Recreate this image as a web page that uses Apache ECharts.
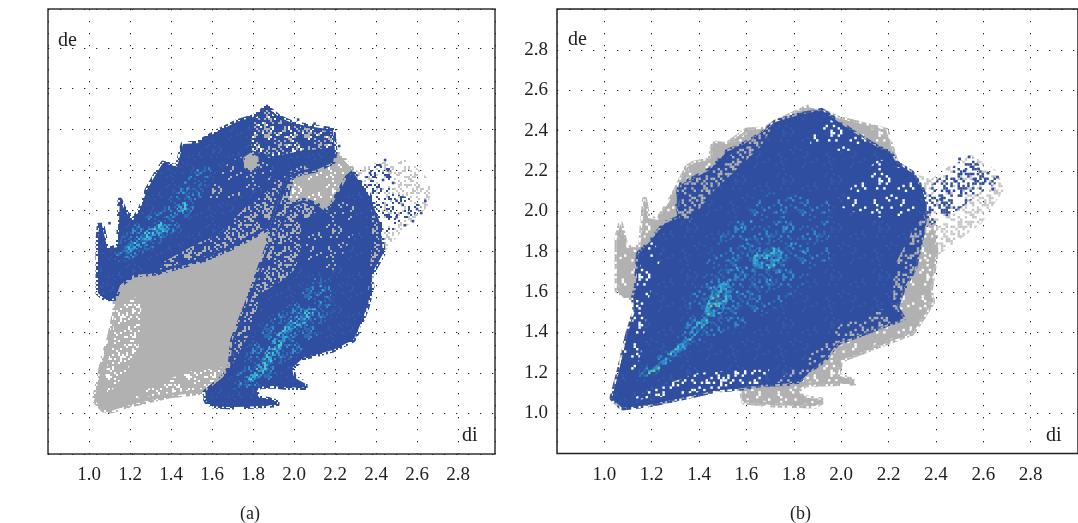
<!DOCTYPE html>
<html><head><meta charset="utf-8"><style>html,body{margin:0;padding:0;background:#fff}#c{width:1078px;height:523px}</style>
<script src="https://cdn.jsdelivr.net/npm/echarts@6/dist/echarts.min.js"></script></head><body><div id="c"></div>
<script>
const diTicks=['1.0','1.2','1.4','1.6','1.8','2.0','2.2','2.4','2.6','2.8'];
const deTicks=['1.0','1.2','1.4','1.6','1.8','2.0','2.2','2.4','2.6','2.8'];
// ---- panel (a) outlines, [di,de]
const aGray=[[1.026,1.079],[1.07,1.03],[1.11,1.026],[1.2,1.054],[1.395,1.10],[1.566,1.118],[1.7,1.2],[2.0,1.3],[2.3,1.4],[2.38,1.635],[2.37,1.8],[2.3,2.2],[2.288,2.21],[2.215,2.295],[2.19,2.31],[1.9,2.3],[1.5,2.25],[1.2,1.9],[1.1,1.7],[1.127,1.58],[1.127,1.52],[1.10,1.39],[1.07,1.29]];
const aTail=[[2.3,1.75],[2.434,1.80],[2.53,1.916],[2.65,2.03],[2.673,2.123],[2.65,2.172],[2.55,2.27],[2.48,2.236],[2.434,2.26],[2.288,2.21],[2.2,2.0]];
const aTailBlue=[[2.37,1.82],[2.5,1.92],[2.62,2.02],[2.6,2.06],[2.48,2.1],[2.47,2.22],[2.4,2.26],[2.35,2.19],[2.33,2.1]];
const aGrayLeft=[[1.08,1.2],[1.11,1.36],[1.13,1.54],[1.26,1.6],[1.24,1.32],[1.17,1.2],[1.09,1.1]];
const aGrayBottom=[[1.2,1.08],[1.4,1.115],[1.57,1.135],[1.68,1.2],[1.66,1.24],[1.5,1.22],[1.38,1.18],[1.28,1.13]];
const aBlob=[[1.98,2.06],[2.05,2.07],[2.11,2.04],[2.16,2.0],[2.2,2.06],[2.27,2.19],[2.21,2.27],[2.1,2.2],[2.0,2.17],[1.97,2.12]];
const aBridge=[[1.86,1.87],[1.883,1.93],[1.92,2.05],[1.966,2.17],[2.0,2.17],[1.98,2.1],[1.98,2.04],[1.93,1.94],[1.883,1.84]];
const aLowerMix=[[1.566,1.118],[1.654,1.192],[1.688,1.24],[1.70,1.374],[1.776,1.57],[1.834,1.734],[1.883,1.867],[1.93,1.94],[1.98,2.04],[2.044,2.064],[2.112,2.04],[2.16,2.0],[2.19,2.05],[2.225,2.113],[2.26,2.177],[2.288,2.2],[2.37,2.08],[2.42,1.95],[2.434,1.80],[2.37,1.685],[2.38,1.635],[2.356,1.537],[2.307,1.41],[2.288,1.374],[2.19,1.325],[2.044,1.286],[1.99,1.236],[2.0,1.19],[2.054,1.16],[2.054,1.14],[1.966,1.14],[1.90,1.148],[1.83,1.145],[1.815,1.115],[1.83,1.09],[1.88,1.08],[1.917,1.07],[1.917,1.055],[1.82,1.05],[1.70,1.044],[1.605,1.05],[1.574,1.07]];
const aLowerSolid=[[1.60,1.12],[1.68,1.2],[1.72,1.27],[1.79,1.40],[1.85,1.6],[1.95,1.66],[2.015,1.72],[2.044,1.82],[2.044,1.95],[2.12,2.0],[2.16,1.98],[2.19,2.05],[2.26,2.17],[2.288,2.19],[2.33,2.12],[2.37,2.0],[2.37,1.85],[2.36,1.72],[2.35,1.6],[2.33,1.5],[2.29,1.40],[2.2,1.345],[2.05,1.30],[1.99,1.25],[1.99,1.20],[2.05,1.15],[1.97,1.145],[1.9,1.148],[1.83,1.145],[1.815,1.115],[1.83,1.09],[1.88,1.08],[1.917,1.07],[1.917,1.055],[1.82,1.05],[1.70,1.044],[1.605,1.05],[1.566,1.08]];
const aLowerSparse=[[2.05,1.72],[2.2,1.72],[2.3,1.92],[2.3,2.05],[2.24,2.08],[2.16,1.97],[2.06,1.96]];
const aUpperMix=[[1.044,1.606],[1.044,1.72],[1.044,1.867],[1.05,1.94],[1.063,1.94],[1.088,1.825],[1.14,1.83],[1.146,1.90],[1.151,2.064],[1.166,2.03],[1.21,1.956],[1.249,2.015],[1.283,2.113],[1.33,2.197],[1.361,2.246],[1.43,2.227],[1.459,2.34],[1.527,2.344],[1.624,2.40],[1.722,2.45],[1.8,2.473],[1.868,2.522],[1.93,2.47],[2.0,2.44],[2.12,2.42],[2.19,2.41],[2.2,2.30],[2.19,2.25],[2.1,2.21],[2.044,2.2],[1.966,2.17],[1.92,2.05],[1.883,1.93],[1.7,1.83],[1.556,1.768],[1.33,1.704],[1.215,1.695],[1.151,1.645],[1.127,1.58],[1.078,1.576]];
const aUpperSolid=[[1.044,1.606],[1.044,1.72],[1.044,1.867],[1.05,1.94],[1.063,1.94],[1.088,1.825],[1.14,1.83],[1.146,1.90],[1.151,2.064],[1.166,2.03],[1.21,1.956],[1.249,2.015],[1.283,2.113],[1.33,2.197],[1.361,2.246],[1.43,2.227],[1.459,2.34],[1.527,2.34],[1.624,2.39],[1.722,2.44],[1.8,2.46],[1.82,2.33],[1.9,2.27],[2.05,2.3],[2.19,2.31],[2.19,2.25],[2.1,2.21],[2.044,2.25],[1.966,2.21],[1.883,2.16],[1.883,2.128],[1.77,2.05],[1.624,1.90],[1.54,1.867],[1.361,1.77],[1.33,1.72],[1.215,1.695],[1.151,1.645],[1.127,1.58],[1.078,1.576]];
const aUpperSparse=[[1.55,2.05],[1.72,2.08],[1.88,2.15],[1.9,2.27],[1.8,2.3],[1.68,2.25]];
const aTopMix=[[1.79,2.31],[1.8,2.46],[1.868,2.51],[1.93,2.46],[2.0,2.43],[2.12,2.41],[2.19,2.4],[2.19,2.32],[2.05,2.31],[1.9,2.28]];
const aGrayOval=[[1.76,2.23],[1.79,2.21],[1.82,2.23],[1.82,2.27],[1.79,2.29],[1.76,2.27]];
const aHalo1=[[1.13,1.75],[1.2,1.77],[1.35,1.85],[1.47,1.96],[1.56,2.1],[1.6,2.22],[1.53,2.24],[1.45,2.13],[1.36,2.04],[1.26,1.97],[1.17,1.9],[1.12,1.8]];
const aHalo2=[[1.7,1.13],[1.86,1.15],[1.96,1.26],[2.1,1.38],[2.18,1.5],[2.18,1.68],[2.1,1.68],[2.0,1.56],[1.88,1.47],[1.78,1.34],[1.72,1.2]];
const aCore1=[[1.18,1.79],[1.3,1.87],[1.4,1.92],[1.35,1.96],[1.26,1.9],[1.18,1.84]];
const aCore2=[[1.43,1.99],[1.48,2.02],[1.47,2.06],[1.43,2.03]];
const aCore3=[[1.76,1.16],[1.84,1.19],[1.93,1.32],[1.98,1.42],[2.06,1.46],[2.11,1.53],[2.06,1.53],[1.98,1.47],[1.9,1.38],[1.83,1.26]];
const aCyan=[[1.22,1.83],[1.28,1.87],[1.36,1.92],[1.38,1.91],[1.47,2.15],[1.53,2.21],[1.48,2.12],[1.46,2.1],[2.13,1.56],[2.14,1.62],[2.13,1.64],[1.8,1.2],[1.74,1.16],[1.9,1.37],[2.03,1.45]];
const aBlueSpecks=[[2.444,2.261],[2.42,2.236],[2.459,2.21],[2.37,2.197],[2.434,2.163],[2.483,2.148],[2.5,2.06],[2.53,2.04],[2.56,2.0],[2.6,2.02],[2.64,2.06],[2.62,2.0],[2.58,1.96],[2.54,1.94],[2.5,1.98],[2.22,2.33],[2.18,2.38],[2.2,2.36],[2.15,2.42],[2.1,2.44],[2.12,2.4],[2.04,2.42],[2.02,2.46],[1.98,2.44],[1.1,1.95],[1.16,2.05]];
// ---- panel (b) outlines
const bGray=[[1.032,1.074],[1.075,1.025],[1.185,1.04],[1.32,1.074],[1.475,1.114],[1.58,1.124],[1.587,1.055],[1.71,1.04],[1.89,1.035],[1.918,1.055],[1.918,1.065],[1.835,1.08],[1.818,1.115],[1.848,1.139],[2.054,1.149],[2.05,1.163],[1.985,1.188],[2.0,1.263],[2.166,1.337],[2.30,1.397],[2.315,1.42],[2.386,1.55],[2.377,1.61],[2.398,1.773],[2.398,1.892],[2.3,2.19],[2.233,2.24],[2.19,2.403],[2.067,2.438],[1.984,2.463],[1.918,2.50],[1.86,2.517],[1.723,2.443],[1.68,2.41],[1.6,2.403],[1.516,2.33],[1.46,2.34],[1.446,2.255],[1.38,2.24],[1.35,2.22],[1.295,2.09],[1.226,1.957],[1.184,1.967],[1.17,2.06],[1.152,1.823],[1.094,1.818],[1.068,1.94],[1.053,1.868],[1.053,1.61],[1.082,1.57],[1.122,1.575],[1.13,1.51],[1.10,1.397],[1.06,1.198]];
const bTail=[[2.3,2.19],[2.398,1.773],[2.5,1.86],[2.593,1.94],[2.648,2.04],[2.688,2.105],[2.66,2.2],[2.55,2.28],[2.45,2.22],[2.38,2.16]];
const bBlue=[[1.032,1.074],[1.075,1.025],[1.185,1.04],[1.32,1.074],[1.475,1.114],[1.58,1.124],[1.65,1.139],[1.818,1.149],[1.848,1.198],[1.93,1.263],[1.985,1.347],[2.096,1.397],[2.262,1.47],[2.233,1.526],[2.26,1.61],[2.31,1.72],[2.34,1.88],[2.36,2.02],[2.344,2.105],[2.30,2.19],[2.233,2.24],[2.207,2.29],[2.15,2.32],[2.055,2.388],[1.96,2.467],[1.918,2.50],[1.86,2.487],[1.818,2.477],[1.723,2.443],[1.67,2.388],[1.6,2.34],[1.516,2.294],[1.446,2.205],[1.38,2.165],[1.317,2.13],[1.309,2.04],[1.32,1.97],[1.255,1.94],[1.198,1.858],[1.144,1.79],[1.135,1.625],[1.122,1.575],[1.13,1.51],[1.10,1.397],[1.06,1.198]];
const bWhiteTop=[[1.87,2.3],[2.14,2.3],[2.1,2.36],[1.96,2.45],[1.87,2.47]];
const bWhiteRight=[[2.0,2.02],[2.1,1.98],[2.3,1.95],[2.34,2.06],[2.28,2.2],[2.16,2.26],[2.06,2.16]];
const bUpperLeft=[[1.31,1.98],[1.32,2.13],[1.45,2.2],[1.6,2.34],[1.72,2.44],[1.66,2.32],[1.46,2.1],[1.36,1.95]];
const bLowerRight=[[1.72,1.15],[1.82,1.15],[1.99,1.35],[2.26,1.47],[2.23,1.54],[2.0,1.44],[1.84,1.26]];
const bRightEdge=[[2.22,1.55],[2.26,1.61],[2.31,1.72],[2.35,1.88],[2.36,2.0],[2.3,1.9],[2.22,1.72]];
const bLowerLeft=[[1.06,1.2],[1.1,1.4],[1.13,1.5],[1.14,1.7],[1.2,1.86],[1.24,1.78],[1.19,1.58],[1.16,1.32],[1.13,1.2]];
const bBottom=[[1.1,1.06],[1.3,1.09],[1.65,1.14],[1.7,1.22],[1.4,1.2],[1.2,1.12]];
const bTailBlue=[[2.34,2.06],[2.36,1.92],[2.46,1.98],[2.6,2.1],[2.668,2.15],[2.593,2.22],[2.55,2.27],[2.497,2.244],[2.45,2.2],[2.38,2.13]];
const bHaloWide=[[1.4,1.35],[1.7,1.5],[1.95,1.75],[1.95,2.05],[1.7,2.1],[1.5,1.9],[1.35,1.55]];
const bHalo=[[1.14,1.17],[1.22,1.19],[1.33,1.3],[1.44,1.42],[1.56,1.5],[1.72,1.65],[1.8,1.78],[1.78,1.9],[1.66,1.88],[1.55,1.78],[1.46,1.68],[1.38,1.5],[1.28,1.34],[1.18,1.24]];
const bCore=[[1.18,1.19],[1.24,1.22],[1.34,1.32],[1.42,1.43],[1.5,1.5],[1.54,1.6],[1.52,1.66],[1.46,1.62],[1.42,1.5],[1.34,1.37],[1.26,1.28],[1.2,1.22]];
const bCore2=[[1.62,1.7],[1.72,1.72],[1.76,1.8],[1.7,1.83],[1.63,1.78]];
const bCyan=[[1.6,1.86],[1.58,1.92],[1.62,1.95],[1.77,1.92],[1.79,1.84],[1.56,1.6],[1.53,1.66],[1.45,1.62],[1.7,1.66],[1.74,1.7],[1.6,1.72],[1.56,1.72],[1.84,1.8]];
const bGreen=[[1.19,1.2],[1.21,1.21],[1.23,1.225],[1.45,1.53],[1.47,1.54],[1.48,1.58],[1.46,1.57],[1.44,1.49]];
const bBlueSpecks=[[2.5,2.26],[2.54,2.27],[2.58,2.21],[2.62,2.19],[2.66,2.17],[2.64,2.11],[2.6,2.14],[2.56,2.16],[2.52,2.2],[2.48,2.15],[2.42,2.06]];

const BLUE='#2f4e9f',GRAY='#b1b1b1',WHITE='#ffffff',CYAN='#36acd8',MID='#2d6bb2',SKY='#2f8fcb',TEAL='#4ac4c4',GREEN='#6cc490',FADE='#c6c6c6',PALE='#3558a8';
// hand-typed speckle rank layout: a cell lights up when its digit falls in a colour's rank range
const speckle=['14159265358979323846','26433832795028841971','69399375105820974944','59230781640628620899','86280348253421170679','82148086513282306647','09384460955058223172','53594081284811174502','84102701938521105559','64462294895493038196','44288109756659334461','28475648233786783165','27120190914564856692','34603486104543266482','13393607260249141273','72458700660631558817','48815209209628292540','91715364367892590360','01133053054882046652','13841469519415116094'];
function tile(base,ranks,cell){const n=20,c=document.createElement('canvas');c.width=c.height=n*cell;const g=c.getContext('2d');
  if(base){g.fillStyle=base;g.fillRect(0,0,n*cell,n*cell);}
  speckle.forEach((r,y)=>[...r].forEach((d,x)=>{const hit=ranks.find(q=>+d>=q[0]&&+d<=q[1]);if(hit){g.fillStyle=hit[2];g.fillRect(x*cell,y*cell,cell,cell);}}));
  return {image:c,repeat:'repeat'};}
function poly(i,pts,fill,stroke,lw){return {type:'custom',xAxisIndex:i,yAxisIndex:i,silent:true,animation:false,clip:false,data:pts,
  renderItem(p,api){ if(p.dataIndex!==0) return null;
    const style={fill:fill||'transparent'}; if(stroke){style.stroke=stroke;style.lineWidth=lw||5;style.lineJoin='round';}
    return {type:'polygon',shape:{points:pts.map(d=>api.coord(d))},style}; }};}
function dots(i,pts,color,size){return {type:'scatter',xAxisIndex:i,yAxisIndex:i,silent:true,animation:false,symbol:'rect',symbolSize:size,data:pts,itemStyle:{color,opacity:1}};}
const fmt=v=>{const s=(+v).toFixed(1);return diTicks.includes(s)&&Math.abs(v-s)<1e-6?s:'';};
const labelFont={fontFamily:'"Liberation Serif",serif',fontSize:19,color:'#222'};
const dotted={show:true,lineStyle:{color:'#222',width:1,type:[1.3,10.7]}};
function xAxis(g,max){return {type:'value',gridIndex:g,min:0.8,max,interval:0.2,axisLine:{show:false},axisTick:{show:false},splitLine:dotted,axisLabel:{...labelFont,margin:12,formatter:fmt,showMinLabel:false,showMaxLabel:false}};}
function yAxis(g,min,max,m){return {type:'value',gridIndex:g,min,max,interval:0.2,axisLine:{show:false},axisTick:{show:false},splitLine:dotted,axisLabel:{...labelFont,margin:m,formatter:fmt,showMinLabel:false,showMaxLabel:false}};}
const txt=(x,y,t,s)=>({type:'text',x,y,style:{text:t,font:s+'px "Liberation Serif",serif',fill:'#222',textVerticalAlign:'middle'}});
const C=2, D=2.4;
const grayEdge=c=>tile(null,[[0,5,GRAY]],c), blueEdge=c=>tile(null,[[0,4,BLUE]],c);
const halo=c=>tile(BLUE,[[0,0,SKY],[1,2,MID]],c), core=c=>tile(MID,[[0,1,CYAN],[2,2,TEAL],[3,4,SKY],[5,6,BLUE]],c);
const option={animation:false,backgroundColor:'#fff',
 grid:[{left:48,top:9,width:447,height:445,show:true,borderColor:'#333',borderWidth:1.5,backgroundColor:'#fff'},
       {left:557,top:9,width:531,height:444.5,show:true,borderColor:'#222',borderWidth:1.5,backgroundColor:'#fff'}],
 xAxis:[xAxis(0,2.98),xAxis(1,3.0)],
 yAxis:[yAxis(0,0.813,3.005,11),yAxis(1,0.8,3.003,9)],
 series:[
   poly(0,aTail,tile(null,[[0,2,FADE]],C)),
   poly(0,aGray,GRAY,grayEdge(C),5),
   poly(0,aGrayLeft,tile(GRAY,[[0,1,WHITE]],C)),
   poly(0,aGrayBottom,tile(GRAY,[[0,1,WHITE]],C)),
   poly(0,aBlob,tile(GRAY,[[0,0,WHITE]],C)),
   poly(0,aTailBlue,tile(null,[[0,1,BLUE]],C)),
   poly(0,aLowerMix,tile(BLUE,[[0,2,GRAY]],C),blueEdge(C),5),
   poly(0,aBridge,tile(BLUE,[[0,3,GRAY]],C)),
   poly(0,aLowerSolid,tile(BLUE,[[0,0,PALE]],C),blueEdge(C),4),
   poly(0,aLowerSparse,tile(BLUE,[[0,0,GRAY]],C)),
   poly(0,aUpperMix,tile(BLUE,[[0,2,GRAY]],C),blueEdge(C),5),
   poly(0,aUpperSolid,tile(BLUE,[[0,0,PALE]],C),blueEdge(C),4),
   poly(0,aUpperSparse,tile(BLUE,[[0,0,GRAY]],C)),
   poly(0,aTopMix,tile(BLUE,[[0,0,WHITE],[1,2,GRAY]],C)),
   poly(0,aGrayOval,GRAY,grayEdge(C),3),
   poly(0,aHalo1,halo(C)),
   poly(0,aHalo2,halo(C)),
   poly(0,aCore1,core(C)),
   poly(0,aCore2,core(C)),
   poly(0,aCore3,core(C)),
   dots(0,aBlueSpecks,BLUE,2.6),dots(0,aCyan,CYAN,2.2),
   poly(1,bTail,tile(null,[[0,3,FADE]],D)),
   poly(1,bGray,tile(GRAY,[[0,0,WHITE]],D),grayEdge(D),5),
   poly(1,bBlue,tile(BLUE,[[0,0,PALE]],D),blueEdge(D),5),
   poly(1,bWhiteTop,tile(BLUE,[[0,0,WHITE]],D)),
   poly(1,bWhiteRight,tile(BLUE,[[0,0,WHITE]],D)),
   poly(1,bUpperLeft,tile(BLUE,[[0,2,GRAY]],D)),
   poly(1,bLowerRight,tile(BLUE,[[0,1,GRAY]],D)),
   poly(1,bRightEdge,tile(BLUE,[[0,2,GRAY]],D)),
   poly(1,bLowerLeft,tile(BLUE,[[0,0,WHITE]],D)),
   poly(1,bBottom,tile(BLUE,[[0,1,WHITE]],D)),
   poly(1,bTailBlue,tile(null,[[0,2,BLUE]],D)),
   poly(1,bHaloWide,tile(BLUE,[[0,0,SKY],[1,1,MID]],D)),
   poly(1,bHalo,halo(D)),
   poly(1,bCore,core(D)),
   poly(1,bCore2,core(D)),
   dots(1,bBlueSpecks,BLUE,2.8),dots(1,bCyan,CYAN,2.4),dots(1,bGreen,GREEN,2.4)],
 graphic:[txt(58,41,'de',20),txt(462,436,'di',20),txt(568,40,'de',20),txt(1046,436,'di',20),txt(240,514,'(a)',18),txt(790,514,'(b)',18)]};
echarts.init(document.getElementById('c'),null,{renderer:'canvas'}).setOption(option);
</script></body></html>
